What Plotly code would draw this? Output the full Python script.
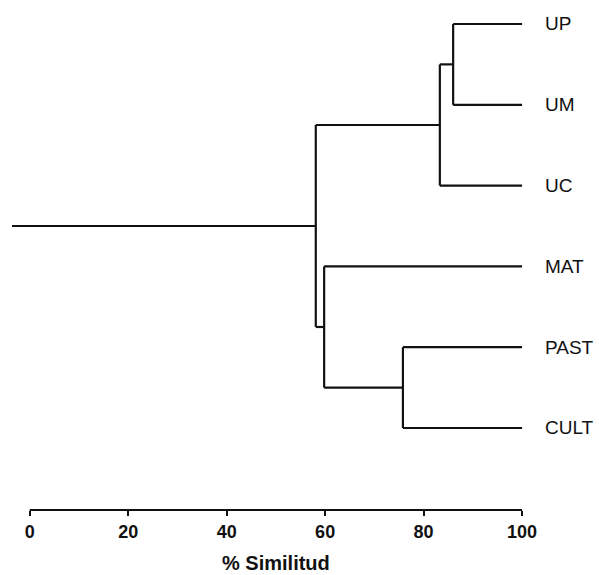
import plotly.graph_objects as go

# Leaves (top to bottom)
leaves = ["UP", "UM", "UC", "MAT", "PAST", "CULT"]
leaf_sim = 100

# Merges: left cluster, right cluster, similarity (%)
link_left = ["UP", "UP|UM", "PAST", "MAT", "UP|UM|UC"]
link_right = ["UM", "UC", "CULT", "PAST|CULT", "MAT|PAST|CULT"]
link_sim = [86.0, 83.3, 75.8, 59.8, 58.1]
root_stub = -3.6

tick_vals = [0, 20, 40, 60, 80, 100]
tick_text = ["0", "20", "40", "60", "80", "100"]
x_title = "% Similitud"

# Node coordinates
node_x = {name: leaf_sim for name in leaves}
node_y = {name: i for i, name in enumerate(leaves)}

xs, ys = [], []
for a, b, s in zip(link_left, link_right, link_sim):
    # vertical
    xs += [s, s, None]
    ys += [node_y[a], node_y[b], None]
    # horizontals to children
    for c in (a, b):
        xs += [s, node_x[c], None]
        ys += [node_y[c], node_y[c], None]
    name = a + "|" + b
    node_x[name] = s
    node_y[name] = (node_y[a] + node_y[b]) / 2

root = link_left[-1] + "|" + link_right[-1]
xs += [root_stub, node_x[root], None]
ys += [node_y[root], node_y[root], None]

fig = go.Figure()
fig.add_trace(go.Scatter(x=xs, y=ys, mode="lines",
                         line=dict(color="#111111", width=2.2),
                         hoverinfo="skip", showlegend=False))

for i, name in enumerate(leaves):
    fig.add_annotation(x=leaf_sim, y=i, text=name, showarrow=False,
                       xanchor="left", yanchor="middle", xshift=21,
                       font=dict(family="Liberation Sans, Arial", size=19, color="#111111"))

# axis line from 0 to 100
fig.add_shape(type="line", xref="x", yref="paper", x0=tick_vals[0], x1=tick_vals[-1],
              y0=0, y1=0, line=dict(color="#111111", width=2.2))

fig.add_annotation(x=50, y=0, xref="x", yref="paper", text=x_title, showarrow=False,
                   xanchor="center", yanchor="middle", yshift=-53,
                   font=dict(family="Liberation Sans, Arial", size=20, color="#111111", weight="bold"))

fig.update_layout(
    width=599, height=575,
    margin=dict(l=12, r=72, t=10, b=65),
    paper_bgcolor="white", plot_bgcolor="white",
    xaxis=dict(range=[root_stub, 101], tickvals=tick_vals, ticktext=tick_text,
               showline=False, showgrid=False, zeroline=False,
               ticks="outside", ticklen=5, tickwidth=2, tickcolor="#111111",
               tickfont=dict(family="Liberation Sans, Arial", size=18, color="#111111", weight="bold"),
               fixedrange=True),
    yaxis=dict(range=[6.015, -0.173], visible=False, fixedrange=True),
)

fig.write_html("out.html", config={"displayModeBar": False},
               post_script="document.body.style.margin='0';document.body.style.overflow='hidden';")
